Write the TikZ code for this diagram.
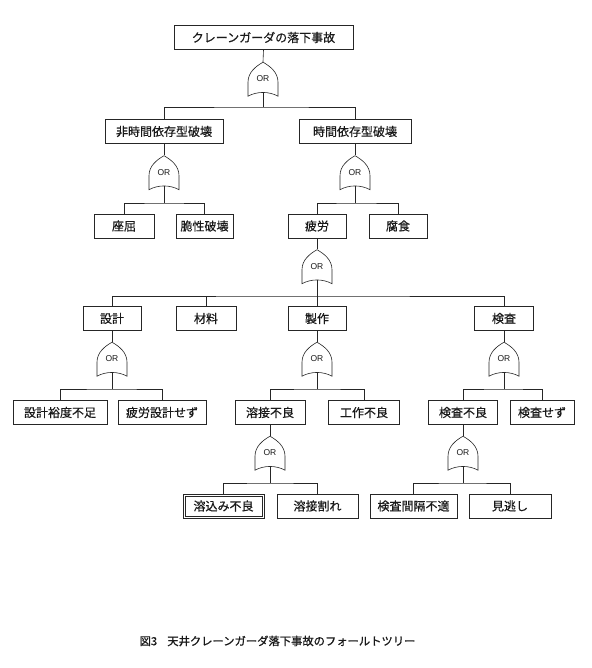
\documentclass[tikz,border=0pt]{standalone}
\usepackage{fontspec}
\setmainfont[FakeBold=0.4]{Noto Sans CJK JP}
\newfontfamily\capfont[FakeBold=0.9]{Noto Sans CJK JP}
\newfontfamily\orfont{Liberation Sans}
\tikzset{
  ln/.style={draw=black!85, line width=0.6pt},
  ev/.style={ln, rectangle, inner sep=0pt, minimum height=24pt, font=\fontsize{12}{12}\selectfont, text=black!90},
  orgate/.style={rectangle, draw=none, inner sep=0pt, minimum width=30pt, minimum height=34pt, font=\orfont\fontsize{8.5}{8.5}\selectfont, text=black!90},
  capt/.style={font=\capfont\fontsize{11.3}{12}\selectfont, text=black!90, inner sep=0pt}
}
\newcommand\gateshape[1]{%
  \draw[ln, shift={(#1.south)}] (-15,0) .. controls (-6,-5) and (6,-5) .. (15,0) -- (15,-14)
    .. controls (15,-24) and (7,-30) .. (0,-34) .. controls (-7,-30) and (-15,-24) .. (-15,-14) -- cycle;}
\begin{document}
\begin{tikzpicture}[x=1pt,y=-1pt]
\useasboundingbox[fill=white] (0,0) rectangle (591,668);
% events
\node[ev, minimum width=179pt] (t) at (263.5,37.5) {クレーンガーダの落下事故};
\node[ev, minimum width=118pt] (a) at (164,131.5) {非時間依存型破壊};
\node[ev, minimum width=112pt] (b) at (355,131.5) {時間依存型破壊};
\node[ev, minimum width=60pt] (a1) at (124,226) {座屈};
\node[ev, minimum width=57pt] (a2) at (204.5,226) {脆性破壊};
\node[ev, minimum width=58pt] (b1) at (317,226) {疲労};
\node[ev, minimum width=58pt] (b2) at (398,226) {腐食};
\node[ev, minimum width=58pt] (c1) at (112,318.5) {設計};
\node[ev, minimum width=60pt] (c2) at (206,318.5) {材料};
\node[ev, minimum width=58pt] (c3) at (317,318.5) {製作};
\node[ev, minimum width=59pt] (c4) at (504,318.5) {検査};
\node[ev, minimum width=94pt] (d1) at (60,412.5) {設計裕度不足};
\node[ev, minimum width=88pt] (d2) at (162,412.5) {疲労設計せず};
\node[ev, minimum width=70pt] (d3) at (270,412.5) {溶接不良};
\node[ev, minimum width=71pt] (d4) at (364,412.5) {工作不良};
\node[ev, minimum width=69pt] (d5) at (463,412.5) {検査不良};
\node[ev, minimum width=64pt] (d6) at (542,412.5) {検査せず};
\node[ev, minimum width=81pt] (e1) at (223.5,506) {溶込み不良};
\draw[ln] ([shift={(2.5pt,2.5pt)}]e1.south west) rectangle ([shift={(-2.5pt,-2.5pt)}]e1.north east);
\node[ev, minimum width=81pt] (e2) at (317.5,506) {溶接割れ};
\node[ev, minimum width=87pt] (e3) at (413.5,506) {検査間隔不適};
\node[ev, minimum width=82pt] (e4) at (510,506) {見逃し};
% gates
\node[orgate] (g0) at (263,79) {\raisebox{-3pt}{OR}};
\node[orgate] (ga) at (164,172.5) {\raisebox{-3pt}{OR}};
\node[orgate] (gb) at (355,172.5) {\raisebox{-3pt}{OR}};
\node[orgate] (gb1) at (317,266.5) {\raisebox{-3pt}{OR}};
\node[orgate] (gc1) at (112,359) {\raisebox{-3pt}{OR}};
\node[orgate] (gc3) at (317,359) {\raisebox{-3pt}{OR}};
\node[orgate] (gc4) at (504,359) {\raisebox{-3pt}{OR}};
\node[orgate] (gd3) at (270,453) {\raisebox{-3pt}{OR}};
\node[orgate] (gd5) at (463,453) {\raisebox{-3pt}{OR}};
\foreach \g in {g0,ga,gb,gb1,gc1,gc3,gc4,gd3,gd5} {\gateshape{\g}}
% bar points
\coordinate (k0) at (263,107);
\coordinate (ka) at (164,203);
\coordinate (kb) at (355,203);
\coordinate (kb1) at (317,296);
\coordinate (kc1) at (112,389);
\coordinate (kc3) at (317,389);
\coordinate (kc4) at (504,389);
\coordinate (kd3) at (270,483);
\coordinate (kd5) at (463,483);
% connectors
\draw[ln] (t.south) -- (g0.north);
\draw[ln] ([yshift=4pt]g0.south) -- (k0);
\draw[ln] (a.north) |- (k0) -| (b.north);
\draw[ln] (a.south) -- (ga.north);
\draw[ln] ([yshift=4pt]ga.south) -- (ka);
\draw[ln] (a1.north) |- (ka) -| (a2.north);
\draw[ln] (b.south) -- (gb.north);
\draw[ln] ([yshift=4pt]gb.south) -- (kb);
\draw[ln] (b1.north) |- (kb) -| (b2.north);
\draw[ln] (b1.south) -- (gb1.north);
\draw[ln] ([yshift=4pt]gb1.south) -- (kb1);
\draw[ln] (c1.north) |- (kb1) -| (c4.north);
\draw[ln] (c2.north) -- (c2.north |- kb1);
\draw[ln] (c3.north) -- (c3.north |- kb1);
\draw[ln] (c1.south) -- (gc1.north);
\draw[ln] ([yshift=4pt]gc1.south) -- (kc1);
\draw[ln] (d1.north) |- (kc1) -| (d2.north);
\draw[ln] (c3.south) -- (gc3.north);
\draw[ln] ([yshift=4pt]gc3.south) -- (kc3);
\draw[ln] (d3.north) |- (kc3) -| (d4.north);
\draw[ln] (c4.south) -- (gc4.north);
\draw[ln] ([yshift=4pt]gc4.south) -- (kc4);
\draw[ln] (d5.north) |- (kc4) -| (d6.north);
\draw[ln] (d3.south) -- (gd3.north);
\draw[ln] ([yshift=4pt]gd3.south) -- (kd3);
\draw[ln] (e1.north) |- (kd3) -| (e2.north);
\draw[ln] (d5.south) -- (gd5.north);
\draw[ln] ([yshift=4pt]gd5.south) -- (kd5);
\draw[ln] (e3.north) |- (kd5) -| (e4.north);
% caption
\node[capt] (cap) at (277.5,641) {図3\hspace{0.9em}天井クレーンガーダ落下事故のフォールトツリー};
\end{tikzpicture}
\end{document}
